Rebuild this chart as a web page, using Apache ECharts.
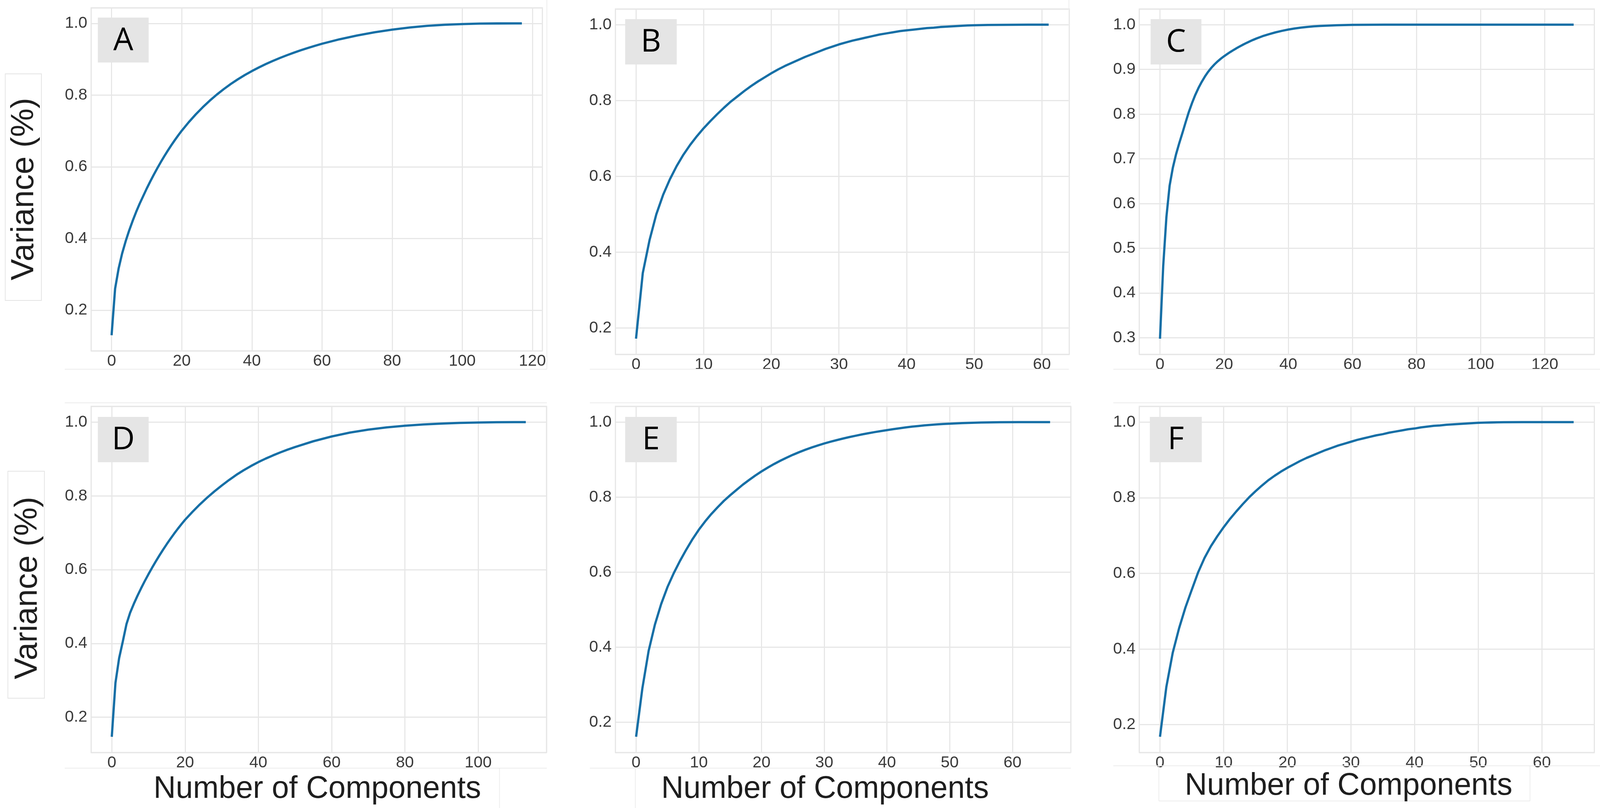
<!DOCTYPE html>
<html>
<head>
<meta charset="utf-8">
<script src="https://cdn.jsdelivr.net/npm/echarts@6/dist/echarts.min.js"></script>
<style>
html,body{margin:0;padding:0;background:#ffffff;overflow:hidden;}
#chart{width:100vw;height:100vh;}
</style>
</head>
<body>
<div id="chart"></div>
<script>
// ---------------- DATA ----------------
const panelLetters = ['A', 'B', 'C', 'D', 'E', 'F'];
const yAxisTitle = 'Variance (%)';
const xAxisTitle = 'Number of Components';

const compsA = [0,1,2,3,4,5,6,7,8,9,10,11,12,13,14,15,16,17,18,19,20,22,24,26,28,30,32,34,36,38,40,42,44,46,48,50,52,54,56,58,60,65,70,75,80,85,90,95,100,105,110,115,117];
const varA   = [0.13,0.26,0.316,0.358,0.392,0.422,0.449,0.474,0.497,0.518,0.539,0.5586,0.5774,0.5954,0.6126,0.629,0.6447,0.6597,0.674,0.6876,0.7006,0.7244,0.7462,0.7662,0.7846,0.8014,0.8168,0.831,0.844,0.856,0.867,0.8772,0.8866,0.8954,0.9036,0.9112,0.9184,0.9252,0.9316,0.9376,0.9432,0.9557,0.9662,0.9752,0.9827,0.9887,0.9932,0.9962,0.9982,0.9994,0.9999,1.0,1.0];

const compsB = [0,1,2,3,4,5,6,7,8,9,10,11,12,13,14,15,16,17,18,19,20,21,22,23,24,25,26,27,28,29,30,31,32,33,34,35,36,37,38,39,40,41,42,43,44,45,46,47,48,49,50,52,54,56,58,61];
const varB   = [0.172,0.345,0.432,0.50,0.551,0.592,0.627,0.657,0.683,0.706,0.727,0.746,0.764,0.781,0.797,0.811,0.825,0.838,0.85,0.861,0.872,0.882,0.891,0.899,0.907,0.915,0.922,0.929,0.936,0.942,0.948,0.953,0.958,0.962,0.966,0.970,0.974,0.977,0.98,0.983,0.985,0.987,0.989,0.991,0.992,0.994,0.995,0.996,0.997,0.998,0.9985,0.9992,0.9996,0.9998,1.0,1.0];

const compsC = [0,1,2,3,4,5,6,7,8,9,10,11,12,13,14,15,16,17,18,19,20,21,22,23,24,25,26,27,28,29,30,32,34,36,38,40,42,44,46,48,50,55,60,65,70,80,90,100,110,120,129];
const varC   = [0.298,0.46,0.57,0.64,0.68,0.71,0.735,0.758,0.782,0.805,0.825,0.843,0.8585,0.872,0.884,0.8945,0.9035,0.9113,0.9181,0.9241,0.9296,0.9346,0.9393,0.9437,0.9479,0.9519,0.9557,0.9593,0.9627,0.9659,0.9689,0.9743,0.9788,0.9828,0.9862,0.9891,0.9915,0.9935,0.9951,0.9963,0.9973,0.9988,0.9996,0.9999,1.0,1.0,1.0,1.0,1.0,1.0,1.0];

const compsD = [0,1,2,3,4,5,6,7,8,9,10,11,12,13,14,15,16,17,18,19,20,22,24,26,28,30,32,34,36,38,40,42,44,46,48,50,55,60,65,70,75,80,85,90,95,100,105,110,113];
const varD   = [0.147,0.293,0.36,0.405,0.452,0.483,0.507,0.529,0.5495,0.569,0.5875,0.6052,0.6222,0.6385,0.6541,0.6691,0.6835,0.6973,0.7105,0.7231,0.7351,0.7565,0.7765,0.795,0.812,0.828,0.843,0.857,0.8695,0.881,0.8915,0.901,0.9097,0.9178,0.9253,0.9323,0.948,0.961,0.9715,0.9795,0.9855,0.99,0.9935,0.996,0.9977,0.9989,0.9996,0.9999,1.0];

const compsE = [0,1,2,3,4,5,6,7,8,9,10,11,12,13,14,15,16,17,18,19,20,21,22,23,24,25,26,27,28,29,30,31,32,33,34,35,36,37,38,39,40,41,42,43,44,45,46,47,48,49,50,51,52,53,54,55,58,61,64,66];
const varE   = [0.161,0.29,0.39,0.46,0.515,0.56,0.597,0.63,0.66,0.688,0.713,0.735,0.755,0.773,0.79,0.805,0.819,0.833,0.8455,0.8575,0.8685,0.8787,0.8882,0.897,0.9052,0.9128,0.9198,0.9263,0.9323,0.9378,0.9429,0.9476,0.952,0.9561,0.96,0.9636,0.967,0.9702,0.9732,0.976,0.9786,0.9812,0.9836,0.9858,0.9878,0.9896,0.9912,0.9926,0.9938,0.9949,0.9958,0.9966,0.9973,0.9979,0.9984,0.9988,0.9996,0.9999,1.0,1.0];

const compsF = [0,1,2,3,4,5,6,7,8,9,10,11,12,13,14,15,16,17,18,19,20,21,22,23,24,25,26,27,28,29,30,31,32,33,34,35,36,37,38,39,40,41,42,43,44,45,46,47,48,49,50,51,52,53,54,57,60,63,65];
const varF   = [0.168,0.30,0.39,0.455,0.51,0.557,0.603,0.641,0.672,0.698,0.722,0.744,0.764,0.783,0.801,0.817,0.832,0.846,0.858,0.869,0.879,0.888,0.897,0.905,0.912,0.919,0.926,0.932,0.938,0.943,0.948,0.953,0.957,0.961,0.965,0.968,0.972,0.975,0.978,0.981,0.983,0.986,0.988,0.99,0.991,0.993,0.994,0.995,0.996,0.997,0.998,0.9985,0.999,0.9994,0.9997,0.9999,1.0,1.0,1.0];

const xTickSteps = [20, 10, 20, 20, 10, 10];
const yTickSteps = [0.2, 0.2, 0.1, 0.2, 0.2, 0.2];

// ---------------- LAYOUT / STYLE (designed for 4251 x 2068, scaled to the viewport) ----------------
const W0 = 4251, H0 = 2068;
const VW = window.innerWidth || W0, VH = window.innerHeight || H0;
const SX = VW / W0, SY = VH / H0, S = Math.min(SX, SY);
const px = v => v * SX, py = v => v * SY, ps = v => v * S;

const panels = [
  {x: compsA, y: varA, grid: [242, 20, 1199, 878],   box: [260, 45, 135, 115]},
  {x: compsB, y: varB, grid: [1635, 23, 1206, 884],  box: [1661, 49, 137, 116]},
  {x: compsC, y: varC, grid: [3027, 23, 1209, 884],  box: [3057, 49, 135, 116]},
  {x: compsD, y: varD, grid: [242, 1040, 1210, 886], box: [260, 1067, 135, 116]},
  {x: compsE, y: varE, grid: [1635, 1040, 1210, 886], box: [1661, 1067, 137, 116]},
  {x: compsF, y: varF, grid: [3027, 1040, 1209, 886], box: [3055, 1067, 138, 116]}
];

const LINE_COLOR = '#166fa6';
const GRID_COLOR = '#e7e7e7';
const TICK_COLOR = '#3a3a3a';
const TICK_FONT = 'Liberation Sans, Arial, sans-serif';

function isMultiple(v, s) {
  return Math.abs(v / s - Math.round(v / s)) < 1e-6;
}

const grids = [], xAxes = [], yAxes = [], series = [];
panels.forEach((p, i) => {
  const n = p.x[p.x.length - 1];
  const v0 = Math.min.apply(null, p.y), v1 = Math.max.apply(null, p.y);
  const yr = v1 - v0;
  const g = p.grid;
  grids.push({
    show: true, borderColor: GRID_COLOR, borderWidth: ps(3), backgroundColor: '#ffffff', containLabel: false,
    left: px(g[0]), top: py(g[1]), width: px(g[2]), height: py(g[3])
  });
  const xs = xTickSteps[i], ys = yTickSteps[i];
  xAxes.push({
    type: 'value', gridIndex: i,
    min: -0.05 * n, max: 1.05 * n,
    minInterval: xs, maxInterval: xs, splitNumber: 6,
    axisLine: {show: false}, axisTick: {show: false},
    splitLine: {show: true, lineStyle: {color: GRID_COLOR, width: ps(3)}},
    axisLabel: {
      show: true, margin: ps(6), color: TICK_COLOR, fontSize: ps(43), fontFamily: TICK_FONT,
      showMinLabel: true, showMaxLabel: true, hideOverlap: false,
      formatter: v => isMultiple(v, xs) ? String(Math.round(v)) : ''
    }
  });
  yAxes.push({
    type: 'value', gridIndex: i,
    min: v0 - 0.05 * yr, max: v1 + 0.05 * yr,
    minInterval: ys, maxInterval: ys, splitNumber: 6,
    axisLine: {show: false}, axisTick: {show: false},
    splitLine: {show: true, lineStyle: {color: GRID_COLOR, width: ps(3)}},
    axisLabel: {
      show: true, margin: ps(10), color: TICK_COLOR, fontSize: ps(43), fontFamily: TICK_FONT,
      showMinLabel: true, showMaxLabel: true, hideOverlap: false,
      formatter: v => isMultiple(v, ys) ? v.toFixed(1) : ''
    }
  });
  series.push({
    type: 'line', xAxisIndex: i, yAxisIndex: i,
    data: p.x.map((c, k) => [c, p.y[k]]),
    showSymbol: false, symbol: 'none', smooth: false,
    lineStyle: {color: LINE_COLOR, width: ps(6)},
    itemStyle: {color: LINE_COLOR},
    z: 5, silent: true, animation: false
  });
});

// Graphic overlays: panel letters, axis titles, faint pasted-panel borders
const graphics = [];
function faintLine(x1, y1, x2, y2) {
  graphics.push({type: 'line', z: 1, silent: true,
    shape: {x1: px(x1), y1: py(y1), x2: px(x2), y2: py(y2)}, style: {stroke: '#ececec', lineWidth: ps(2)}});
}
faintLine(172, 945, 1453, 945);
faintLine(1567, 945, 2840, 945);
faintLine(2958, 945, 4251, 945);
faintLine(1453, 0, 1453, 945);
faintLine(2840, 0, 2840, 905);
faintLine(172, 1031, 1453, 1031);
faintLine(1567, 1031, 2845, 1031);
faintLine(2958, 1031, 4251, 1031);
faintLine(172, 1966, 1453, 1966);
faintLine(1567, 1966, 2845, 1966);
faintLine(2958, 1960, 4251, 1960);
faintLine(1327, 1966, 1327, 2068);
faintLine(1688, 1966, 1688, 2068);
faintLine(3079, 1960, 3079, 2050);
faintLine(4065, 1960, 4065, 2050);
faintLine(3079, 2050, 4065, 2050);

// y-title boxes
[[14, 189, 96, 580], [21, 1206, 97, 581]].forEach(b => {
  graphics.push({type: 'rect', z: 2, silent: true,
    shape: {x: px(b[0]), y: py(b[1]), width: px(b[2]), height: py(b[3])},
    style: {fill: '#ffffff', stroke: '#e4e4e4', lineWidth: ps(2)}});
});

panels.forEach((p, i) => {
  const b = p.box;
  graphics.push({type: 'rect', z: 100, silent: true,
    shape: {x: px(b[0]), y: py(b[1]), width: px(b[2]), height: py(b[3])},
    style: {fill: '#e5e5e5'}});
  graphics.push({type: 'text', z: 101, silent: true,
    x: px(b[0] + b[2] / 2), y: py(b[1] + b[3] / 2 + 2),
    style: {text: panelLetters[i], fill: '#000000',
      font: ps(84) + 'px "Open Sans", "Liberation Sans", sans-serif',
      align: 'center', verticalAlign: 'middle'}});
});

[[65, 484], [74, 1505]].forEach(pos => {
  graphics.push({type: 'text', z: 101, silent: true,
    x: px(pos[0]), y: py(pos[1]), rotation: Math.PI / 2,
    style: {text: yAxisTitle, fill: '#1e1e1e',
      font: ps(85) + 'px "Liberation Sans", Arial, sans-serif',
      align: 'center', verticalAlign: 'middle'}});
});

[[843, 2020], [2192, 2020], [3583, 2012]].forEach(pos => {
  graphics.push({type: 'text', z: 101, silent: true,
    x: px(pos[0]), y: py(pos[1]),
    style: {text: xAxisTitle, fill: '#1e1e1e',
      font: ps(82) + 'px "Liberation Sans", Arial, sans-serif',
      align: 'center', verticalAlign: 'middle'}});
});

const chart = echarts.init(document.getElementById('chart'), null, {renderer: 'canvas'});
chart.setOption({
  backgroundColor: '#ffffff',
  animation: false,
  grid: grids,
  xAxis: xAxes,
  yAxis: yAxes,
  series: series,
  graphic: {elements: graphics}
});
</script>
</body>
</html>
